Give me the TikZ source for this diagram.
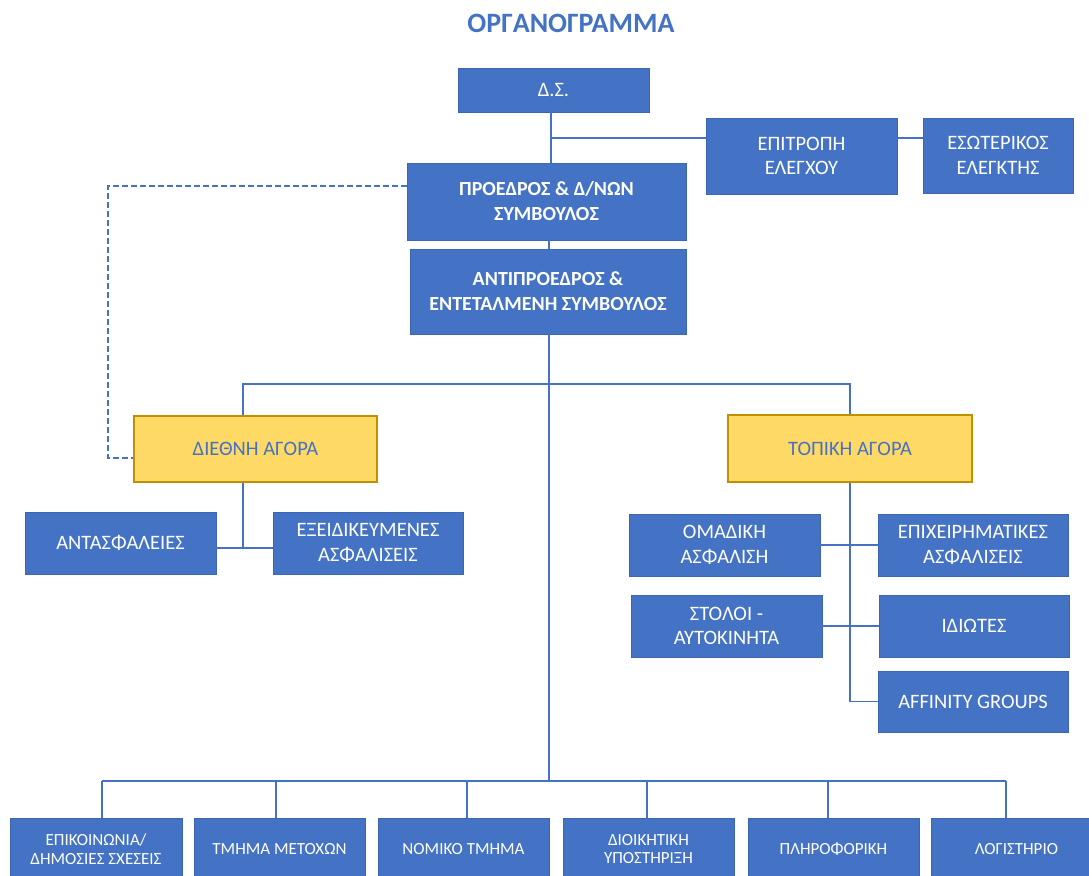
\documentclass[tikz,border=0pt]{standalone}
\usepackage{fontspec}
\setmainfont{Carlito}
\usetikzlibrary{positioning}
\definecolor{oblue}{HTML}{4472C4}
\definecolor{oedge}{HTML}{3A66B4}
\definecolor{ogold}{HTML}{FFD966}
\definecolor{ogoldedge}{HTML}{BF9000}
\begin{document}
\begin{tikzpicture}[x=1pt,y=-1pt,
	box/.style={draw=oedge,line width=0.8pt,fill=oblue,text=white,align=center,inner sep=0pt,font=\fontsize{20.5}{24.5}\selectfont},
	bbox/.style={box,font=\bfseries\fontsize{20}{25}\selectfont},
	sbox/.style={box,font=\fontsize{17}{18.5}\selectfont},
	gold/.style={box,draw=ogoldedge,line width=1.2pt,fill=ogold,text=oblue},
	line/.style={draw=oblue,line width=1.6pt},
	dline/.style={line,dash pattern=on 6pt off 3pt}]
	\clip (0,0) rectangle (1089,875);
	\fill[white] (0,0) rectangle (1089,875);
	
	%Title
	\node[font=\bfseries\fontsize{28}{32}\selectfont,text=oblue] (title) at (571,23) {ΟΡΓΑΝΟΓΡΑΜΜΑ};
	
	%Board and committees
	\node[box,minimum width=191,minimum height=44] (DS) at (553.5,90) {Δ.Σ.};
	\node[box,minimum width=191,minimum height=76] (EE) at (801.5,156) {ΕΠΙΤΡΟΠΗ\\ΕΛΕΓΧΟΥ};
	\node[box,minimum width=150,minimum height=75] (EK) at (998,155.5) {ΕΣΩΤΕΡΙΚΟΣ\\ΕΛΕΓΚΤΗΣ};
	\node[bbox,minimum width=279,minimum height=77] (PR) at (546.5,201.5) {ΠΡΟΕΔΡΟΣ \& Δ/ΝΩΝ\\ΣΥΜΒΟΥΛΟΣ};
	\node[bbox,minimum width=276,minimum height=85] (AP) at (548,291.5) {ΑΝΤΙΠΡΟΕΔΡΟΣ \&\\ΕΝΤΕΤΑΛΜΕΝΗ ΣΥΜΒΟΥΛΟΣ};
	
	%Markets
	\node[gold,minimum width=243,minimum height=66] (DA) at (255.5,449) {ΔΙΕΘΝΗ ΑΓΟΡΑ};
	\node[gold,minimum width=244,minimum height=67] (TA) at (850,448.5) {ΤΟΠΙΚΗ ΑΓΟΡΑ};
	
	\node[box,minimum width=191,minimum height=62] (AN) at (120.5,543) {ΑΝΤΑΣΦΑΛΕΙΕΣ};
	\node[box,minimum width=190,minimum height=62] (EA) at (368,543) {ΕΞΕΙΔΙΚΕΥΜΕΝΕΣ\\ΑΣΦΑΛΙΣΕΙΣ};
	
	\node[box,minimum width=191,minimum height=62] (OA) at (724.5,545) {ΟΜΑΔΙΚΗ\\ΑΣΦΑΛΙΣΗ};
	\node[box,minimum width=190,minimum height=62] (EPA) at (973,545) {ΕΠΙΧΕΙΡΗΜΑΤΙΚΕΣ\\ΑΣΦΑΛΙΣΕΙΣ};
	\node[box,minimum width=191,minimum height=62] (ST) at (726.5,626) {ΣΤΟΛΟΙ -\\ΑΥΤΟΚΙΝΗΤΑ};
	\node[box,minimum width=190,minimum height=62] (ID) at (974,626) {ΙΔΙΩΤΕΣ};
	\node[box,minimum width=190,minimum height=61] (AF) at (973,701.5) {AFFINITY GROUPS};
	
	%Departments
	\node[sbox,minimum width=172,minimum height=62] (B1) at (96,849) {ΕΠΙΚΟΙΝΩΝΙΑ/\\ΔΗΜΟΣΙΕΣ ΣΧΕΣΕΙΣ};
	\node[sbox,minimum width=171,minimum height=62] (B2) at (279.5,849) {ΤΜΗΜΑ ΜΕΤΟΧΩΝ};
	\node[sbox,minimum width=171,minimum height=62] (B3) at (463.5,849) {ΝΟΜΙΚΟ ΤΜΗΜΑ};
	\node[sbox,minimum width=171,minimum height=62] (B4) at (648.5,849) {ΔΙΟΙΚΗΤΙΚΗ\\ΥΠΟΣΤΗΡΙΞΗ};
	\node[sbox,minimum width=171,minimum height=62] (B5) at (833.5,849) {ΠΛΗΡΟΦΟΡΙΚΗ};
	\node[sbox,minimum width=171,minimum height=62] (B6) at (1016.5,849) {ΛΟΓΙΣΤΗΡΙΟ};
	
	%Connectors top
	\coordinate (j1) at (551,138);
	\draw[line] (j1 |- DS.south) -- (j1 |- PR.north);
	\draw[line] (j1) -- (j1 -| EE.west);
	\draw[line] (EE.east |- j1) -- (EK.west |- j1);
	\draw[line] (549,0 |- PR.south) -- (549,0 |- AP.north);
	
	%Dashed link
	\coordinate (k1) at (108,186);
	\coordinate (k2) at (108,458);
	\draw[dline] (PR.west |- k1) -- (k1) -- (k2) -- (k2 -| DA.west);
	
	%Market bus
	\coordinate (m0) at (549,781);
	\coordinate (m1) at (243,384);
	\coordinate (m2) at (850,384);
	\draw[line] (m0 |- AP.south) -- (m0);
	\draw[line] (m1 |- DA.north) -- (m1) -- (m2) -- (m2 |- TA.north);
	
	\coordinate (c1) at (243,548);
	\draw[line] (c1 |- DA.south) -- (c1);
	\draw[line] (AN.east |- c1) -- (EA.west |- c1);
	
	\draw[line] (TA.south) |- (AF.west);
	\draw[line] (OA.east) -- (EPA.west);
	\draw[line] (ST.east) -- (ID.west);
	
	%Department bus
	\foreach \x [count=\i] in {102,276,467,647,828,1006}{
		\coordinate (d\i) at (\x,781);
		\draw[line] (d\i) -- (d\i |- B\i.north);
	}
	\draw[line] (d1) -- (d6);
\end{tikzpicture}
\end{document}
